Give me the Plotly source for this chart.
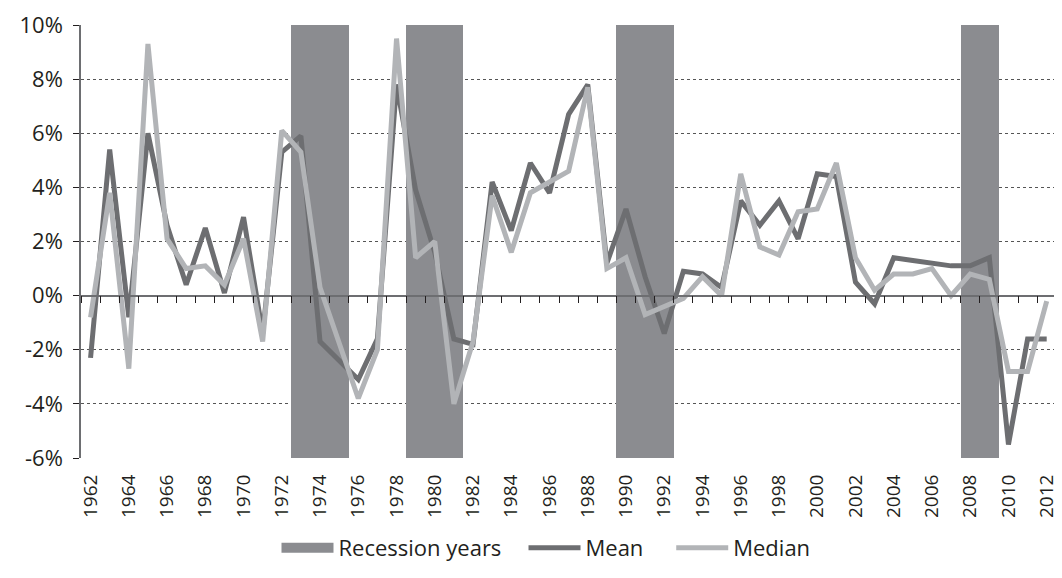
import plotly.graph_objects as go

years = list(range(1962, 2013))

mean_growth = [-2.3, 5.4, -0.8, 6.0, 2.6, 0.4, 2.5, 0.1, 2.9, -1.4,
               5.3, 5.9, -1.7, -2.4, -3.1, -1.6, 7.8, 3.9, 1.6, -1.6,
               -1.8, 4.2, 2.4, 4.9, 3.8, 6.7, 7.8, 1.2, 3.2, 0.7,
               -1.4, 0.9, 0.8, 0.3, 3.5, 2.6, 3.5, 2.1, 4.5, 4.4,
               0.5, -0.3, 1.4, 1.3, 1.2, 1.1, 1.1, 1.4, -5.5, -1.6,
               -1.6]

median_growth = [-0.8, 3.8, -2.7, 9.3, 2.1, 1.0, 1.1, 0.4, 2.1, -1.7,
                 6.1, 5.3, 0.3, -1.7, -3.8, -2.0, 9.5, 1.4, 2.0, -4.0,
                 -1.7, 3.7, 1.6, 3.8, 4.2, 4.6, 7.7, 1.0, 1.4, -0.7,
                 -0.4, -0.1, 0.7, 0.0, 4.5, 1.8, 1.5, 3.1, 3.2, 4.9,
                 1.4, 0.2, 0.8, 0.8, 1.0, 0.0, 0.8, 0.6, -2.8, -2.8,
                 -0.2]

recession_years = [1973, 1974, 1975, 1979, 1980, 1981, 1990, 1991, 1992, 2008, 2009]

y_min, y_max = -6, 10
y_ticks = list(range(y_min, y_max + 1, 2))
y_ticktext = [f"{v}%" for v in y_ticks]

label_years = years[::2]

BAR_COLOR = "#8b8c90"
FONT = "Open Sans"
PAD = "\u00a0" * 3  # extra room between legend entries
fig = go.Figure()

# recession shading, full height of the plot
fig.add_trace(go.Bar(
    x=recession_years,
    y=[y_max - y_min] * len(recession_years),
    base=y_min,
    width=1,
    name="Recession years",
    showlegend=False,
    marker=dict(color=BAR_COLOR, line=dict(width=0)),
    xaxis="x",
))
# wide legend swatch for the shading
fig.add_trace(go.Scatter(
    x=[None], y=[None], name="Recession years" + PAD, mode="lines",
    line=dict(color=BAR_COLOR, width=13), xaxis="x2",
))

fig.add_trace(go.Scatter(
    x=years, y=mean_growth, name="Mean" + PAD + "\u00a0", mode="lines",
    line=dict(color="#6d6e71", width=5),
    xaxis="x2",
))
fig.add_trace(go.Scatter(
    x=years, y=median_growth, name="Median", mode="lines",
    line=dict(color="#b2b4b7", width=5),
    xaxis="x2",
))

# a little room on the right so the last year label stays inside the page
xr = [years[0] - 0.5, years[-1] + 0.8]
zero_pos = (0 - y_min) / (y_max - y_min)

# page has an 8px body margin, so the figure is sized to fit inside it
fig.update_layout(
    width=1054, height=562,
    margin=dict(l=73, r=0, t=17, b=112, autoexpand=False),
    paper_bgcolor="white", plot_bgcolor="white",
    font=dict(family=FONT, size=19, color="#231f20"),
    bargap=0,
    showlegend=True,
    legend=dict(orientation="h", x=0.474, xanchor="center", y=-0.208, yanchor="middle",
                font=dict(size=22), itemwidth=52, traceorder="normal"),
    # axis line through zero with ticks between the years
    xaxis=dict(
        range=xr, anchor="free", position=zero_pos, automargin=False,
        showline=True, linecolor="#6d6e71", linewidth=1.5,
        showgrid=False, zeroline=False, showticklabels=False, ticks="",
        minor=dict(tickvals=[y - 0.5 for y in years] + [years[-1] + 0.5],
                   ticks="outside", ticklen=7, tickcolor="#231f20", tickwidth=1, showgrid=False),
    ),
    xaxis2=dict(
        range=xr, overlaying="x", anchor="y", side="bottom", automargin=False,
        showline=False, showgrid=False, zeroline=False,
        ticks="outside", ticklen=8, tickcolor="rgba(0,0,0,0)",
        tickvals=label_years, ticktext=[str(y) for y in label_years],
        tickangle=-90, tickfont=dict(size=19), ticklabeloverflow="allow",
    ),
    yaxis=dict(
        range=[y_min, y_max], tickvals=y_ticks, ticktext=y_ticktext, automargin=False,
        showline=True, linecolor="#6d6e71", linewidth=1.5,
        ticks="outside", ticklen=6, tickcolor="#231f20",
        showgrid=True, gridcolor="#555555", griddash="dot", gridwidth=1,
        zeroline=False, tickfont=dict(size=22), ticklabelstandoff=6,
    ),
)

fig.write_html("out.html")
